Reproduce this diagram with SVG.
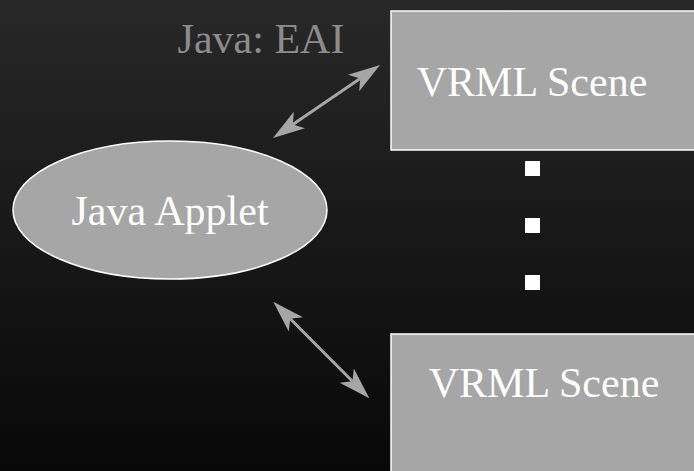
<svg xmlns="http://www.w3.org/2000/svg" width="694" height="471" viewBox="0 0 694 471">
  <defs>
    <linearGradient id="bg" x1="0" y1="0" x2="0" y2="1">
      <stop offset="0" stop-color="#282828"/>
      <stop offset="1" stop-color="#080808"/>
    </linearGradient>
    <marker id="ah" markerUnits="userSpaceOnUse" markerWidth="34" markerHeight="22" viewBox="0 -11 34 22" refX="8" refY="0" orient="auto-start-reverse">
      <path d="M0,-10 L32,0 L0,10 L8,0 Z" fill="#a6a6a6"/>
    </marker>
    <style>
      .node { fill: #a6a6a6; stroke: #ffffff; stroke-width: 1.5; }
      .label { font-family: "Liberation Serif", "Times New Roman", serif; font-size: 42px; fill: #ffffff; text-anchor: middle; }
      .conn { stroke: #a6a6a6; stroke-width: 3; fill: none; marker-start: url(#ah); marker-end: url(#ah); }
      .dot { fill: #ffffff; }
    </style>
  </defs>
  <rect x="0" y="0" width="694" height="471" fill="url(#bg)"/>

  <g id="eai-label">
    <text x="261" y="53" class="label" style="fill:#8c8c8c">Java: EAI</text>
  </g>

  <g id="vrml-scene-top">
    <rect x="391" y="11" width="310" height="139" class="node"/>
    <text x="532" y="96" class="label">VRML Scene</text>
  </g>

  <g id="java-applet">
    <ellipse cx="170" cy="210" rx="157" ry="69" class="node"/>
    <text x="170" y="225" class="label">Java Applet</text>
  </g>

  <g id="vrml-scene-bottom">
    <rect x="391" y="334" width="310" height="150" class="node"/>
    <text x="544" y="397" class="label">VRML Scene</text>
  </g>

  <g id="ellipsis">
    <rect x="525" y="161" width="15" height="15" class="dot"/>
    <rect x="525" y="218" width="15" height="15" class="dot"/>
    <rect x="525" y="275" width="15" height="15" class="dot"/>
  </g>

  <g id="connectors">
    <line x1="292.8" y1="124.5" x2="360.2" y2="78.5" class="conn"/>
    <line x1="290.2" y1="318.7" x2="352.4" y2="381.3" class="conn"/>
  </g>
</svg>
